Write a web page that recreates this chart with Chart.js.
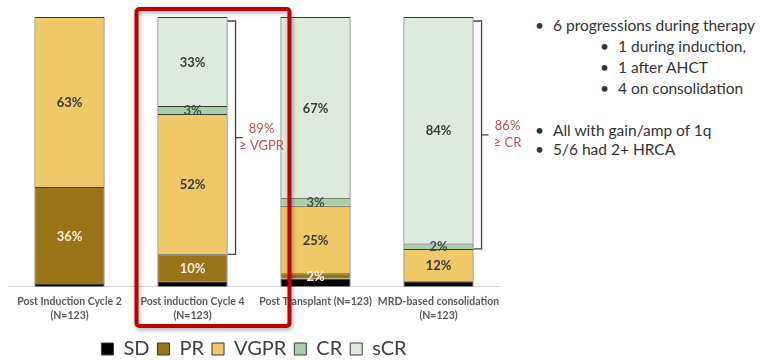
<!DOCTYPE html>
<html>
<head>
<meta charset="utf-8">
<script src="https://cdn.jsdelivr.net/npm/chart.js@4/dist/chart.umd.min.js"></script>
<style>
  html, body { margin: 0; padding: 0; background: #ffffff; }
  body { width: 763px; height: 360px; position: relative; overflow: hidden; font-family: Lato, "Open Sans", sans-serif; }
  #wrap { position: absolute; left: 0; top: 0; width: 530px; height: 369px; }
  .notes { position: absolute; left: 0; top: 0; color: #333; font-size: 15.5px; }
  .row { position: absolute; white-space: nowrap; line-height: 20px; }
  .row .dot { position: absolute; left: -18px; top: 0; }
</style>
</head>
<body>
<div id="wrap"><canvas id="c" width="530" height="369"></canvas></div>
<div class="notes">
  <div class="row" style="left:553px; top:15px;"><span class="dot">•</span>6 progressions during therapy</div>
  <div class="row" style="left:618px; top:36px;"><span class="dot">•</span>1 during induction,</div>
  <div class="row" style="left:618px; top:57px;"><span class="dot">•</span>1 after AHCT</div>
  <div class="row" style="left:618px; top:78px;"><span class="dot">•</span>4 on consolidation</div>
  <div class="row" style="left:553px; top:120px;"><span class="dot">•</span>All with gain/amp of 1q</div>
  <div class="row" style="left:553px; top:139px;"><span class="dot">•</span>5/6 had 2+ HRCA</div>
</div>
<script>
// Response categories by treatment phase (percent of patients)
const categories = [
  ['Post Induction Cycle 2', '(N=123)'],
  ['Post induction Cycle 4', '(N=123)'],
  'Post Transplant (N=123)',
  ['MRD-based consolidation', '(N=123)']
];
const sdValues   = [1, 2, 3, 2];
const prValues   = [36, 10, 2, 0];
const vgprValues = [63, 52, 25, 12];
const crValues   = [0, 3, 3, 2];
const scrValues  = [0, 33, 67, 84];

// Bracket annotations: category index, lowest response included, text lines
const bracketBars   = [1, 3];
const bracketFrom   = ['VGPR', 'CR'];
const bracketLabels = [['89%', '\u2265 VGPR'], ['86%', '\u2265 CR']];

const FONT = 'Lato, "Open Sans", sans-serif';

const datasets = [
  { label: 'SD',   data: sdValues,   backgroundColor: '#000000', showLabel: false },
  { label: 'PR',   data: prValues,   backgroundColor: '#9a7418', showLabel: true, labelColor: '#f6f0e2' },
  { label: 'VGPR', data: vgprValues, backgroundColor: '#efc868', showLabel: true, labelColor: '#3a3a3a' },
  { label: 'CR',   data: crValues,   backgroundColor: '#a9cfa9', showLabel: true, labelColor: '#4a4a4a' },
  { label: 'sCR',  data: scrValues,  backgroundColor: '#dfeadf', showLabel: true, labelColor: '#3a3a3a' }
].map(d => Object.assign(d, {
  borderColor: '#3a3a3a',
  borderWidth: 1,
  categoryPercentage: 1,
  barPercentage: 0.57
}));

const annotations = {
  id: 'annotations',
  afterDatasetsDraw(chart) {
    const ctx = chart.ctx;
    const y = chart.scales.y;
    ctx.save();
    // value labels inside segments
    ctx.textAlign = 'center';
    ctx.textBaseline = 'middle';
    ctx.font = 'bold 13px ' + FONT;
    chart.data.datasets.forEach((ds, di) => {
      if (!ds.showLabel) return;
      chart.getDatasetMeta(di).data.forEach((bar, i) => {
        const v = ds.data[i];
        if (!v) return;
        ctx.fillStyle = ds.labelColor;
        ctx.fillText(v + '%', bar.x, (bar.y + bar.base) / 2 + 1);
      });
    });
    // brackets
    const names = chart.data.datasets.map(d => d.label);
    bracketBars.forEach((bi, k) => {
      const upto = names.indexOf(bracketFrom[k]);
      let low = 0, total = 0;
      chart.data.datasets.forEach((ds, di) => {
        if (di < upto) low += ds.data[bi];
        total += ds.data[bi];
      });
      const bar = chart.getDatasetMeta(0).data[bi];
      const right = bar.x + bar.width / 2;
      const bx = right + 8;
      const yTop = y.getPixelForValue(total) + 4;
      const yBot = y.getPixelForValue(low);
      const yMid = (yTop + yBot) / 2;
      ctx.strokeStyle = '#444';
      ctx.lineWidth = 1.3;
      ctx.beginPath();
      ctx.moveTo(right, yTop); ctx.lineTo(bx, yTop); ctx.lineTo(bx, yBot); ctx.lineTo(right, yBot);
      ctx.moveTo(bx, yMid); ctx.lineTo(bx + 7, yMid);
      ctx.stroke();
      ctx.fillStyle = '#c0504d';
      ctx.font = '13px ' + FONT;
      ctx.textAlign = 'center';
      const tx = bx + 26;
      ctx.fillText(bracketLabels[k][0], tx, yMid - 9);
      ctx.fillText(bracketLabels[k][1], tx, yMid + 8);
    });
    ctx.restore();
  },
  afterDraw(chart) {
    // highlight frame around the cycle 4 column
    const ctx = chart.ctx;
    const cx = chart.scales.x.getPixelForValue(1);
    ctx.save();
    ctx.shadowColor = 'rgba(0,0,0,0.35)';
    ctx.shadowBlur = 4;
    ctx.shadowOffsetX = 1;
    ctx.shadowOffsetY = 2;
    ctx.strokeStyle = '#c00000';
    ctx.lineWidth = 4;
    ctx.beginPath();
    ctx.roundRect(cx - 56, 9, 153, 317, 3);
    ctx.stroke();
    ctx.restore();
  }
};

new Chart(document.getElementById('c'), {
  type: 'bar',
  data: { labels: categories, datasets },
  options: {
    responsive: false,
    animation: false,
    layout: { padding: { left: 8, right: 30, top: 17, bottom: 0 } },
    scales: {
      x: {
        stacked: true,
        grid: { display: false, drawTicks: false },
        border: { display: true, color: '#d9d9d9', width: 1 },
        ticks: {
          color: '#595959',
          font: { family: FONT, size: 10.5, weight: 'bold', lineHeight: 1.35 },
          padding: 8,
          maxRotation: 0,
          autoSkip: false
        }
      },
      y: {
        stacked: true,
        display: false,
        min: 0,
        max: 100
      }
    },
    plugins: {
      legend: {
        position: 'bottom',
        labels: {
          color: '#404040',
          font: { family: FONT, size: 20 },
          boxWidth: 12,
          boxHeight: 12,
          padding: 8,
          useBorderRadius: false
        }
      },
      tooltip: { enabled: false }
    }
  },
  plugins: [annotations]
});
</script>
</body>
</html>
